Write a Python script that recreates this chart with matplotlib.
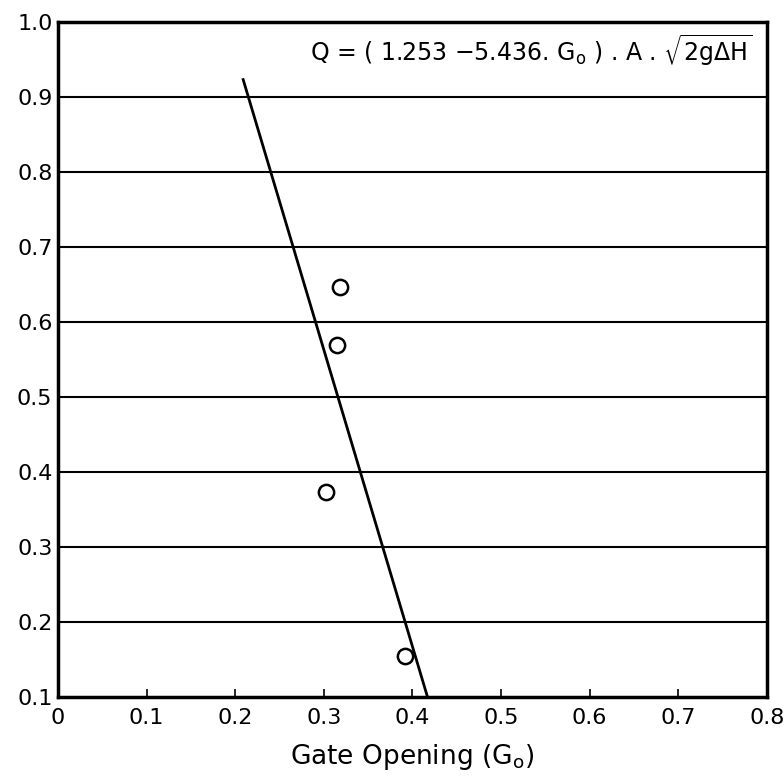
import matplotlib.pyplot as plt

# gate opening vs discharge coefficient
gate_open = [0.318, 0.315, 0.302, 0.392]
coeff = [0.647, 0.569, 0.373, 0.155]

# fitted line, two end points
fit_x = [0.209, 0.417]
fit_y = [0.923, 0.100]

x_ticks = [0, 0.1, 0.2, 0.3, 0.4, 0.5, 0.6, 0.7, 0.8]
x_labels = ['0', '0.1', '0.2', '0.3', '0.4', '0.5', '0.6', '0.7', '0.8']
y_ticks = [0.1, 0.2, 0.3, 0.4, 0.5, 0.6, 0.7, 0.8, 0.9, 1.0]
y_labels = ['0.1', '0.2', '0.3', '0.4', '0.5', '0.6', '0.7', '0.8', '0.9', '1.0']

plt.rcParams['font.family'] = 'DejaVu Sans'
plt.rcParams['mathtext.fontset'] = 'dejavusans'

fig = plt.figure(figsize=(7.84, 7.82), dpi=100)
ax = fig.add_axes([0.074, 0.109, 0.904, 0.863])

# horizontal rules across the plot
for y in y_ticks[1:-1]:
    ax.axhline(y, color='black', lw=1.5, zorder=1)

ax.plot(fit_x, fit_y, color='black', lw=2, zorder=2)
ax.plot(gate_open, coeff, 'o', ms=11, mfc='white', mec='black', mew=1.8, zorder=3)

ax.set_xlim(0, 0.8)
ax.set_ylim(0.1, 1.0)
ax.set_xticks(x_ticks)
ax.set_xticklabels(x_labels, fontsize=16)
ax.set_yticks(y_ticks)
ax.set_yticklabels(y_labels, fontsize=16)
ax.tick_params(axis='x', direction='in', length=6, width=1.2, pad=8)
ax.tick_params(axis='y', length=0, pad=4)

for s in ax.spines.values():
    s.set_linewidth(2.5)

ax.set_xlabel(r'Gate Opening (G$_\mathrm{o}$)', fontsize=19, labelpad=10)

ax.text(0.98, 0.958,
        r'Q = ( 1.253 $-$5.436. G$_\mathrm{o}$ ) . A . $\sqrt{\mathrm{2g\Delta H}}$',
        transform=ax.transAxes, ha='right', va='center', fontsize=17)

fig.savefig('out.png', dpi=100)
